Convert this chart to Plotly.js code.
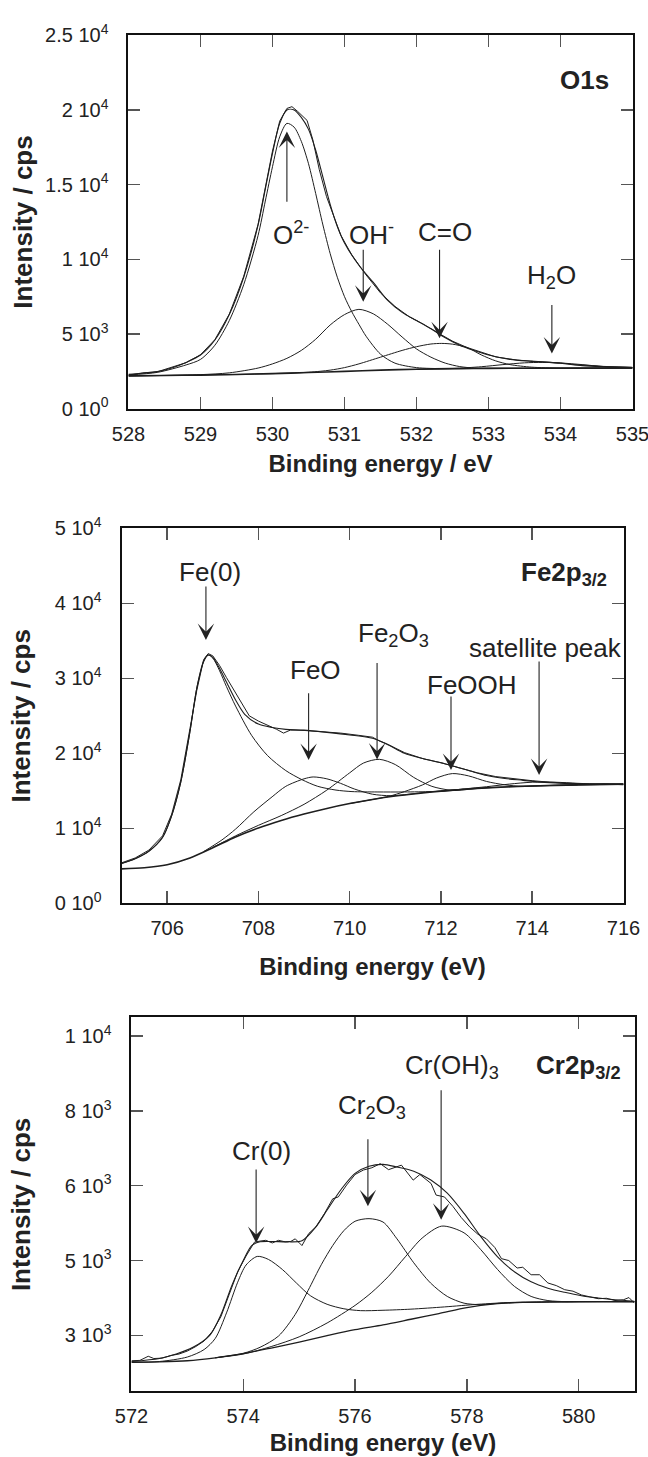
<!DOCTYPE html>
<html><head><meta charset="utf-8">
<script src="https://cdn.plot.ly/plotly-3.0.1.min.js"></script>
<style>html,body{margin:0;padding:0;background:#fff}#chart{width:648px;height:1457px}</style>
</head><body><div id="chart"></div>
<script>
// ---------------- O1s panel ----------------
const o1s_fit_x = [528.0,528.2,528.4,528.6,528.8,529.0,529.2,529.4,529.6,529.8,529.9,530.0,530.1,530.2,530.3,530.4,530.5,530.6,530.7,530.8,530.9,531.0,531.2,531.4,531.6,531.8,532.0,532.2,532.4,532.6,532.8,533.0,533.3,533.6,534.0,534.3,534.6,535.0];
const o1s_fit   = [2300,2370,2480,2730,3100,3590,4600,6300,8800,12300,14700,17100,19100,20000,20000,19500,18700,17300,15500,13700,12200,11100,9600,8450,7250,6450,5900,5350,4750,4250,3900,3600,3300,3170,3040,2880,2810,2760];
const o1s_meas_x = [528.0,528.2,528.4,528.6,528.8,529.0,529.2,529.4,529.6,529.8,529.9,530.0,530.1,530.2,530.27,530.35,530.48,530.56,530.65,530.75,530.85,530.95,531.1,531.3,531.5,531.7,531.9,532.1,532.3,532.5,532.7,532.9,533.1,533.4,533.7,534.0,534.2,534.4,534.6,534.8,535.0];
const o1s_meas   = [2250,2400,2470,2760,3080,3610,4620,6330,8850,12350,14800,17250,19250,20100,20220,19900,19300,18000,16000,14200,12900,11600,10300,8950,7750,6850,6150,5650,5070,4520,4100,3760,3470,3250,3160,3060,2950,2880,2830,2800,2770];
const o1s_bg_x = [528,528.5,529,529.5,530,530.5,531,531.5,532,532.5,533,534,535];
const o1s_bg   = [2200,2220,2250,2290,2350,2420,2500,2580,2640,2680,2700,2710,2720];
const o1s_o2_x = [528.0,528.4,528.8,529.0,529.2,529.4,529.6,529.8,529.9,530.0,530.1,530.2,530.3,530.4,530.5,530.6,530.7,530.8,530.9,531.0,531.1,531.2,531.3,531.5,531.7,532.0,532.4,533.0,534.0,535.0];
const o1s_o2   = [2260,2430,2930,3300,4250,5900,8300,11600,13900,16200,18200,19100,18850,17900,16400,14400,12300,10400,8800,7500,6500,5650,4850,3650,3050,2750,2680,2700,2710,2720];
const o1s_oh_x = [528.0,528.5,529.0,529.4,529.8,530.0,530.2,530.4,530.6,530.8,531.0,531.2,531.4,531.6,531.8,532.0,532.2,532.4,532.6,532.8,533.0,534.0,535.0];
const o1s_oh   = [2200,2225,2280,2400,2720,3000,3370,3900,4650,5600,6300,6650,6350,5650,4800,4000,3450,3050,2820,2720,2700,2710,2720];
const o1s_co_x = [528.0,529.5,530.5,530.8,531.0,531.2,531.5,531.8,532.0,532.2,532.35,532.5,532.7,532.9,533.1,533.3,533.6,534.0,535.0];
const o1s_co   = [2200,2290,2440,2580,2750,3000,3450,3900,4150,4330,4370,4320,4100,3600,3200,2950,2780,2720,2720];
const o1s_h2o_x = [532.0,532.5,532.9,533.2,533.5,533.75,534.0,534.3,534.6,535.0];
const o1s_h2o   = [2640,2690,2810,2950,3070,3100,3060,2950,2820,2760];
const o1s_xticks = [528,529,530,531,532,533,534,535];
const o1s_yticks = [0,5000,10000,15000,20000,25000];
const o1s_ytext  = ['0 10<sup>0</sup>','5 10<sup>3</sup>','1 10<sup>4</sup>','1.5 10<sup>4</sup>','2 10<sup>4</sup>','2.5 10<sup>4</sup>'];

// ---------------- Fe2p3/2 panel ----------------
const fe_fit_x = [705.0,705.3,705.6,705.9,706.1,706.3,706.5,706.65,706.8,706.9,707.0,707.15,707.3,707.5,707.7,708.0,708.3,708.6,709.0,709.5,710.0,710.5,710.85,711.2,711.6,711.95,712.3,712.7,713.0,713.4,713.8,714.1,714.5,715.0,715.5,716.0];
const fe_fit   = [5300,5950,6950,8800,11700,16200,22900,28700,32300,33100,32800,31300,29500,27100,25200,23900,23450,23200,23100,22800,22450,22000,21100,20000,19300,18800,18250,17550,17050,16650,16400,16200,16050,15950,15900,15900];
const fe_meas_x = [705.0,705.3,705.6,705.9,706.1,706.3,706.5,706.65,706.8,706.9,707.0,707.15,707.3,707.5,707.65,707.8,708.0,708.2,708.4,708.55,708.7,709.0,709.4,709.8,710.2,710.5,710.65,710.8,711.2,711.6,712.0,712.4,712.8,713.2,713.6,714.0,714.4,714.8,715.2,715.6,716.0];
const fe_meas   = [5400,6050,7100,9000,11900,16500,23300,28400,32500,33300,33000,31700,30100,28000,26500,25000,24300,23800,23200,22700,23100,23050,22900,22700,22400,22150,21650,21300,20100,19300,18750,18100,17400,16900,16600,16350,16150,16000,15900,15950,15800];
const fe_bg_x = [705.0,705.5,706.0,706.5,707.0,707.5,708.0,708.5,709.0,709.5,710.0,710.5,711.0,711.5,712.0,712.5,713.0,714.0,715.0,716.0];
const fe_bg   = [4600,4750,5150,6050,7400,8850,10050,11050,11900,12650,13300,13850,14300,14650,14950,15200,15400,15650,15800,15900];
const fe0_x = [705.0,705.3,705.6,705.9,706.1,706.3,706.5,706.65,706.8,706.9,707.0,707.15,707.3,707.5,707.85,708.2,708.6,708.95,709.3,709.7,710.05,710.6,711.2,711.8,712.3,713.0,714.0,716.0];
const fe0   = [5300,5950,6950,8800,11700,16200,22900,28700,32200,33100,32700,31000,28900,26300,22400,19700,17700,16500,15600,15100,14900,14850,14850,14900,15050,15400,15650,15900];
const feo_x = [706.8,707.2,707.5,707.9,708.3,708.6,709.0,709.2,709.5,709.8,710.1,710.5,710.9,711.3,711.8,712.5];
const feo   = [6900,8450,9900,12200,14200,15600,16600,16850,16600,16000,15250,14550,14350,14550,14900,15200];
const fe2o3_x = [707.0,707.5,708.0,708.5,709.0,709.5,710.0,710.3,710.65,711.0,711.4,711.8,712.2,712.5];
const fe2o3   = [7450,9000,10400,11700,13200,15100,17400,18700,19200,18500,16800,15600,15100,15200];
const feooh_x = [710.0,710.5,710.85,711.2,711.6,711.9,712.25,712.6,713.0,713.4,713.8,714.3,715.0];
const feooh   = [13300,13850,14250,14900,15800,16700,17300,17000,16250,15800,15600,15700,15800];
const fesat_x = [712.0,712.5,713.0,713.5,714.0,714.5,715.0,715.5,716.0];
const fesat   = [14950,15250,15550,15900,16150,16150,16000,15900,15900];
const fe_xticks = [706,708,710,712,714,716];
const fe_yticks = [0,10000,20000,30000,40000,50000];
const fe_ytext  = ['0 10<sup>0</sup>','1 10<sup>4</sup>','2 10<sup>4</sup>','3 10<sup>4</sup>','4 10<sup>4</sup>','5 10<sup>4</sup>'];

// ---------------- Cr2p3/2 panel ----------------
const cr_fit_x = [572.0,572.5,572.8,573.1,573.4,573.6,573.8,574.0,574.15,574.3,574.5,574.8,575.05,575.3,575.5,575.75,576.0,576.25,576.5,576.75,577.05,577.35,577.65,577.95,578.25,578.55,578.85,579.15,579.45,579.75,580.05,580.35,580.65,581.0];
const cr_fit   = [1300,1380,1500,1680,2000,2550,3350,4000,4400,4500,4510,4500,4530,4900,5350,5900,6330,6520,6570,6500,6390,6160,5800,5260,4640,4100,3700,3430,3260,3150,3060,3000,2950,2910];
const cr_meas_x = [572.0,572.15,572.3,572.4,572.55,572.7,572.85,573.0,573.15,573.3,573.45,573.6,573.75,573.9,574.05,574.2,574.3,574.4,574.52,574.63,574.75,574.85,574.93,575.05,575.17,575.3,575.45,575.6,575.7,575.85,576.0,576.15,576.3,576.45,576.6,576.83,577.04,577.16,577.36,577.45,577.6,577.75,577.9,578.05,578.2,578.35,578.5,578.62,578.75,578.9,579.0,579.15,579.3,579.45,579.6,579.75,579.9,580.05,580.2,580.35,580.5,580.65,580.8,580.9,581.0];
const cr_meas   = [1320,1330,1440,1380,1390,1460,1500,1580,1700,1850,2110,2500,3100,3700,4120,4490,4520,4540,4470,4540,4500,4510,4580,4400,4720,4900,5250,5650,5700,6020,6300,6420,6480,6590,6430,6550,6150,6300,6060,5750,5700,5450,5150,4900,4700,4580,4350,4050,4000,3800,3820,3620,3620,3400,3330,3220,3180,3080,3030,2980,2990,2930,2950,3010,2860];
const cr_bg_x = [572.0,572.5,573.0,573.5,574.0,574.5,575.0,575.5,576.0,576.5,577.0,577.5,578.0,578.5,579.0,579.5,580.0,581.0];
const cr_bg   = [1280,1290,1320,1400,1510,1660,1820,1990,2150,2280,2430,2580,2740,2840,2880,2895,2900,2900];
const cr0_x = [572.0,572.5,573.0,573.3,573.5,573.7,573.9,574.05,574.25,574.45,574.7,574.95,575.2,575.5,575.8,576.1,576.5,577.0,577.6,578.2,578.8,579.5,580.2,581.0];
const cr0   = [1280,1300,1420,1620,1920,2600,3420,3880,4110,4030,3760,3400,3060,2830,2710,2660,2670,2700,2760,2830,2880,2895,2900,2900];
const cr2o3_x = [573.5,574.0,574.3,574.63,574.93,575.16,575.4,575.6,575.8,576.0,576.25,576.5,576.75,577.05,577.35,577.65,577.95,578.25,578.6,579.0,580.0,581.0];
const cr2o3   = [1400,1520,1680,1980,2560,3200,3900,4400,4800,5050,5120,5030,4580,3940,3400,3040,2860,2820,2860,2880,2900,2900];
const croh_x = [573.5,574.0,574.5,575.0,575.5,576.0,576.3,576.6,576.9,577.2,577.55,577.95,578.25,578.55,578.85,579.15,579.45,579.8,580.5,581.0];
const croh   = [1400,1500,1700,1960,2330,2800,3150,3580,4100,4600,4920,4740,4290,3760,3310,3040,2930,2900,2900,2900];
const cr_xticks = [572,574,576,578,580];
const cr_yticks = [2000,4000,6000,8000,10000];
const cr_ytext  = ['3 10<sup>3</sup>','5 10<sup>3</sup>','6 10<sup>3</sup>','8 10<sup>3</sup>','1 10<sup>4</sup>'];

// ---------------- labels ----------------
const o1s_labels = ['O<sup>2-</sup>','OH<sup>-</sup>','C=O','H<sub>2</sub>O'];
const fe_labels  = ['Fe(0)','FeO','Fe<sub>2</sub>O<sub>3</sub>','FeOOH','satellite peak'];
const cr_labels  = ['Cr(0)','Cr<sub>2</sub>O<sub>3</sub>','Cr(OH)<sub>3</sub>'];

const FONT = 'Liberation Sans, Arial, Helvetica, sans-serif';
const INK = '#1e1e1e';

function tr(x, y, n, w, shape) {
  const s = n === 1 ? '' : String(n);
  return {x: x, y: y, xaxis: 'x' + s, yaxis: 'y' + s, type: 'scatter', mode: 'lines',
    line: {color: INK, width: w, shape: shape || 'spline', smoothing: 0.8},
    hoverinfo: 'skip', showlegend: false};
}

const data = [
  tr(o1s_bg_x, o1s_bg, 1, 1.6), tr(o1s_o2_x, o1s_o2, 1, 1), tr(o1s_oh_x, o1s_oh, 1, 1),
  tr(o1s_co_x, o1s_co, 1, 1), tr(o1s_h2o_x, o1s_h2o, 1, 1),
  tr(o1s_fit_x, o1s_fit, 1, 1.1), tr(o1s_meas_x, o1s_meas, 1, 1, 'linear'),

  tr(fe_bg_x, fe_bg, 2, 1.6), tr(fe0_x, fe0, 2, 1), tr(feo_x, feo, 2, 1), tr(fe2o3_x, fe2o3, 2, 1),
  tr(feooh_x, feooh, 2, 1), tr(fesat_x, fesat, 2, 1),
  tr(fe_fit_x, fe_fit, 2, 1.1), tr(fe_meas_x, fe_meas, 2, 1, 'linear'),

  tr(cr_bg_x, cr_bg, 3, 1.3), tr(cr0_x, cr0, 3, 1), tr(cr2o3_x, cr2o3, 3, 1), tr(croh_x, croh, 3, 1),
  tr(cr_fit_x, cr_fit, 3, 1.1), tr(cr_meas_x, cr_meas, 3, 1, 'linear')
];

function xax(dom, range, tv, title, anchor, stand) {
  return {domain: dom, range: range, tickvals: tv, ticktext: tv.map(String), anchor: anchor,
    showline: true, linecolor: '#111', linewidth: 2, mirror: 'ticks', ticks: 'inside', ticklen: 12,
    tickwidth: 1.5, tickcolor: '#555', showgrid: false, zeroline: false, automargin: false,
    ticklabelstandoff: 6, ticklabeloverflow: 'allow',
    tickfont: {family: FONT, size: 20, color: '#222'},
    title: {text: '<b>' + title + '</b>', font: {family: FONT, size: 24, color: '#222'}, standoff: stand}};
}
function yax(dom, range, tv, tt, anchor, stand) {
  return {domain: dom, range: range, tickvals: tv, ticktext: tt, anchor: anchor,
    showline: true, linecolor: '#111', linewidth: 2, mirror: 'ticks', ticks: 'inside', ticklen: 12,
    tickwidth: 1.5, tickcolor: '#555', showgrid: false, zeroline: false, automargin: false,
    ticklabelstandoff: 14, ticklabeloverflow: 'allow',
    tickfont: {family: FONT, size: 20, color: '#222'},
    title: {text: '<b>Intensity / cps</b>', font: {family: FONT, size: 26, color: '#222'}, standoff: stand}};
}

function lab(n, x, y, t, size, bold) {
  const s = n === 1 ? '' : String(n);
  return {xref: 'x' + s, yref: 'y' + s, x: x, y: y, text: bold ? '<b>' + t + '</b>' : t,
    showarrow: false, xanchor: 'center', yanchor: 'middle',
    font: {family: FONT, size: size, color: '#222'}};
}
function arr(n, x, y0, y1) {
  const s = n === 1 ? '' : String(n);
  return {xref: 'x' + s, yref: 'y' + s, axref: 'x' + s, ayref: 'y' + s,
    x: x, y: y1, ax: x, ay: y0, text: '', showarrow: true,
    arrowhead: 3, arrowsize: 2.5, arrowwidth: 1.1, arrowcolor: '#222'};
}

const annotations = [
  lab(1, 534.33, 22030, 'O1s', 26, true),
  lab(1, 530.26, 11740, o1s_labels[0], 26), arr(1, 530.2, 13750, 18550),
  lab(1, 531.37, 11740, o1s_labels[1], 26), arr(1, 531.26, 10740, 7160),
  lab(1, 532.40, 11850, o1s_labels[2], 26), arr(1, 532.32, 10740, 4710),
  lab(1, 533.88, 8820, o1s_labels[3], 26), arr(1, 533.88, 7050, 3700),

  lab(2, 714.69, 44000, 'Fe2p<sub>3/2</sub>', 26, true),
  lab(2, 706.94, 44220, fe_labels[0], 26), arr(2, 706.85, 42440, 35110),
  lab(2, 709.25, 31110, fe_labels[1], 26), arr(2, 709.10, 28220, 19110),
  lab(2, 710.95, 35800, fe_labels[2], 26), arr(2, 710.60, 32250, 19180),
  lab(2, 712.67, 29110, fe_labels[3], 26), arr(2, 712.22, 27780, 17780),
  lab(2, 714.28, 34000, fe_labels[4], 26), arr(2, 714.15, 32440, 17110),

  lab(3, 579.99, 9197, 'Cr2p<sub>3/2</sub>', 26, true),
  lab(3, 574.33, 6923, cr_labels[0], 26), arr(3, 574.23, 6477, 4470),
  lab(3, 576.30, 8107, cr_labels[1], 26), arr(3, 576.23, 7280, 5450),
  lab(3, 577.73, 9197, cr_labels[2], 26), arr(3, 577.54, 8590, 5090)
];

const layout = {
  width: 648, height: 1457, margin: {l: 0, r: 0, t: 0, b: 0},
  paper_bgcolor: '#fff', plot_bgcolor: '#fff', showlegend: false,
  font: {family: FONT, color: '#222'},
  xaxis:  xax([0.1983, 0.9761], [528, 535], o1s_xticks, 'Binding energy / eV', 'y', 12),
  yaxis:  yax([0.7195, 0.9758], [0, 25000], o1s_yticks, o1s_ytext, 'x', 5),
  xaxis2: xax([0.1875, 0.9622], [705, 716], fe_xticks, 'Binding energy (eV)', 'y2', 20),
  yaxis2: yax([0.3800, 0.6374], [0, 50000], fe_yticks, fe_ytext, 'x2', 17),
  xaxis3: xax([0.2029, 0.9792], [572, 581], cr_xticks, 'Binding energy (eV)', 'y3', 8),
  yaxis3: yax([0.0450, 0.3017], [500, 10500], cr_yticks, cr_ytext, 'x3', 27),
  annotations: annotations
};

Plotly.newPlot('chart', data, layout, {staticPlot: true, displayModeBar: false});
</script></body></html>
